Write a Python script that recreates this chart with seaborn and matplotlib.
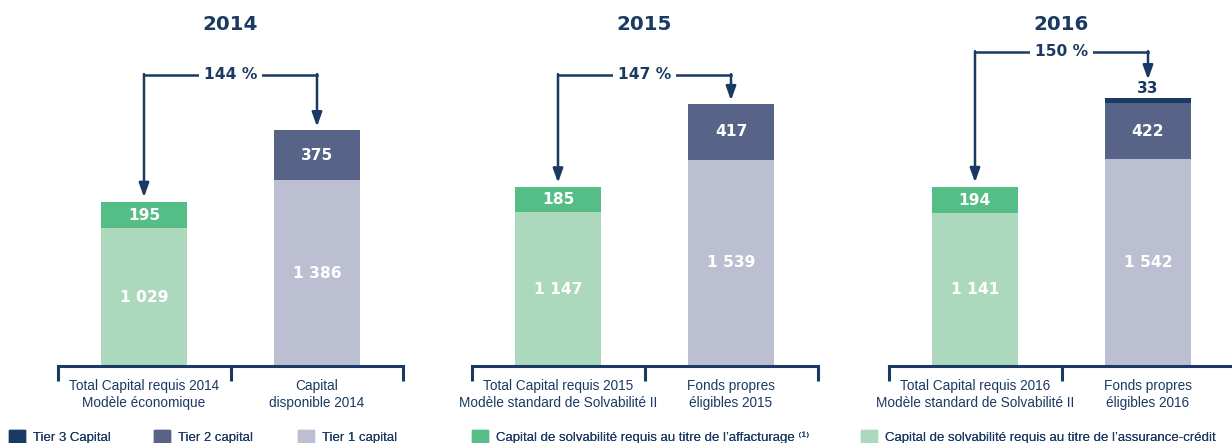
import pandas as pd
import matplotlib
matplotlib.use("Agg")
import matplotlib.pyplot as plt
from matplotlib.patches import Patch
import seaborn as sns

years = ["2014", "2015", "2016"]
cat_required = [
    "Total Capital requis 2014\nModèle économique",
    "Total Capital requis 2015\nModèle standard de Solvabilité II",
    "Total Capital requis 2016\nModèle standard de Solvabilité II",
]
cat_available = [
    "Capital\ndisponible 2014",
    "Fonds propres\néligibles 2015",
    "Fonds propres\néligibles 2016",
]
assurance_credit = [1029, 1147, 1141]
affacturage = [195, 185, 194]
tier1 = [1386, 1539, 1542]
tier2 = [375, 417, 422]
tier3 = [0, 0, 33]
ratios = ["144 %", "147 %", "150 %"]

NAVY = "#1b3a63"
C_T3 = "#1b3a63"
C_T2 = "#576488"
C_T1 = "#bcbfd1"
C_AFF = "#55be86"
C_ASS = "#acd9be"

sns.set_theme(style="white")
plt.rcParams["font.family"] = ["Liberation Sans", "DejaVu Sans"]

fig = plt.figure(figsize=(12.32, 4.43), dpi=100)
W, H = 1232, 443
lefts = [57.5, 471.5, 888.5]
arrow_levels = [2172, 2172, 2343]

for i, year in enumerate(years):
    ax = fig.add_axes([lefts[i] / W, 77 / H, 346 / W, 366 / H])
    order = [cat_required[i], cat_available[i]]

    # stacked bars drawn as cumulative layers, tallest first
    layers = [
        (cat_available[i], tier1[i] + tier2[i] + tier3[i], C_T3),
        (cat_available[i], tier1[i] + tier2[i], C_T2),
        (cat_available[i], tier1[i], C_T1),
        (cat_required[i], assurance_credit[i] + affacturage[i], C_AFF),
        (cat_required[i], assurance_credit[i], C_ASS),
    ]
    for cat, val, col in layers:
        df = pd.DataFrame({"cat": [cat], "val": [val]})
        sns.barplot(data=df, x="cat", y="val", order=order, color=col,
                    width=0.5, saturation=1, ax=ax, zorder=2,
                    edgecolor="none", linewidth=0)

    ax.set_xlim(-0.5, 1.5)
    ax.set_ylim(0, 2731)
    ax.set_xlabel("")
    ax.set_ylabel("")
    ax.set_yticks([])
    for s in ["top", "left", "right"]:
        ax.spines[s].set_visible(False)
    ax.spines["bottom"].set_color(NAVY)
    ax.spines["bottom"].set_linewidth(2.2)
    ax.spines["bottom"].set_zorder(3)

    ax.set_xticks([-0.5, 0.5, 1.5])
    ax.set_xticklabels(["", "", ""])
    ax.set_xticks([0, 1], minor=True)
    ax.set_xticklabels(order, minor=True, fontsize=9.8, color=NAVY,
                       linespacing=1.3)
    ax.tick_params(axis="x", which="major", length=10.5, width=2.2,
                   color=NAVY, direction="out", bottom=True)
    ax.tick_params(axis="x", which="minor", length=0, pad=9.5)

    # segment labels
    fmt = lambda v: f"{v:,}".replace(",", " ")
    lbl = dict(ha="center", va="center", color="white", fontsize=11.2,
               fontweight="bold", family="DejaVu Sans", zorder=4)
    ax.text(0, assurance_credit[i] / 2, fmt(assurance_credit[i]), **lbl)
    ax.text(0, assurance_credit[i] + affacturage[i] / 2, fmt(affacturage[i]), **lbl)
    ax.text(1, tier1[i] / 2, fmt(tier1[i]), **lbl)
    ax.text(1, tier1[i] + tier2[i] / 2, fmt(tier2[i]), **lbl)
    top_right = tier1[i] + tier2[i] + tier3[i]
    if tier3[i]:
        ax.text(1, top_right + 70, fmt(tier3[i]), ha="center", va="center",
                color=NAVY, fontsize=11.2, fontweight="bold", family="DejaVu Sans")
        tip_right = top_right + 140
    else:
        tip_right = top_right + 25
    tip_left = assurance_credit[i] + affacturage[i] + 35

    # ratio arrows
    lvl = arrow_levels[i]
    ax.plot([0, 1], [lvl, lvl], color=NAVY, lw=1.8, solid_capstyle="projecting",
            zorder=3)
    for x, tip in [(0, tip_left), (1, tip_right)]:
        ax.annotate("", xy=(x, tip), xytext=(x, lvl + 6),
                    arrowprops=dict(arrowstyle="-|>,head_length=0.7,head_width=0.25",
                                    color=NAVY, lw=1.8, shrinkA=0, shrinkB=0),
                    zorder=3)
    ax.text(0.5, lvl, ratios[i], ha="center", va="center", color=NAVY,
            fontsize=11.2, fontweight="bold", family="DejaVu Sans", zorder=4,
            bbox=dict(boxstyle="square,pad=0.3", fc="white", ec="none"))

    ax.text(0.5, (366 - 25) / 366, year, transform=ax.transAxes, ha="center",
            va="center", color=NAVY, fontsize=14.3, fontweight="bold",
            family="DejaVu Sans")

# legend items
legend_items = [
    (7, "Tier 3 Capital", C_T3),
    (152, "Tier 2 capital", C_T2),
    (296, "Tier 1 capital", C_T1),
    (470, "Capital de solvabilité requis au titre de l’affacturage ⁽¹⁾", C_AFF),
    (859, "Capital de solvabilité requis au titre de l’assurance-crédit", C_ASS),
]
for x, label, col in legend_items:
    leg = fig.legend(handles=[Patch(color=col, label=label)], loc="center left",
                     bbox_to_anchor=(x / W - 0.006, 1 - 437 / H), frameon=False,
                     fontsize=9.5, handlelength=1.25, handleheight=1.3,
                     handletextpad=0.6, borderpad=0.2)
    for t in leg.get_texts():
        t.set_color(NAVY)
    fig.add_artist(leg)

fig.savefig("out.png", dpi=100)
